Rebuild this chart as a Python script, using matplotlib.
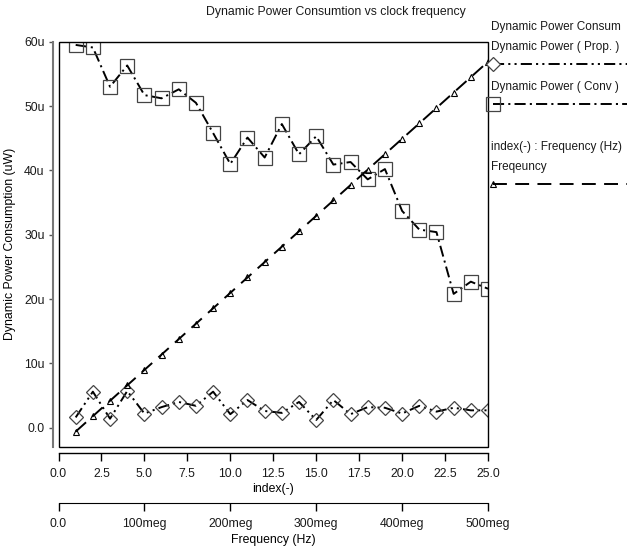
import matplotlib
matplotlib.use("Agg")
import matplotlib.pyplot as plt
from matplotlib.ticker import FuncFormatter
from matplotlib.lines import Line2D
from matplotlib.patches import Rectangle

# data
index = [1, 2, 3, 4, 5, 6, 7, 8, 9, 10, 11, 12, 13,
         14, 15, 16, 17, 18, 19, 20, 21, 22, 23, 24, 25]
frequency_hz = [20e6, 40e6, 60e6, 80e6, 100e6, 120e6, 140e6, 160e6, 180e6,
                200e6, 220e6, 240e6, 260e6, 280e6, 300e6, 320e6, 340e6,
                360e6, 380e6, 400e6, 420e6, 440e6, 460e6, 480e6, 500e6]
power_prop_uw = [1.6, 5.6, 1.4, 5.7, 2.2, 3.2, 4.0, 3.4, 5.6, 2.1, 4.3, 2.6, 2.3,
                 4.0, 1.2, 4.3, 2.1, 3.2, 3.1, 2.2, 3.4, 2.5, 3.1, 2.7, 2.7]
power_conv_uw = [59.5, 59.1, 53.0, 56.3, 51.7, 51.2, 52.6, 50.5, 45.8, 41.0, 45.1,
                 42.0, 47.2, 42.5, 45.3, 40.9, 41.3, 38.6, 40.2, 33.7, 30.8,
                 30.4, 20.8, 22.7, 21.6]

power_ticks = [0, 10, 20, 30, 40, 50, 60]
index_ticks = [0, 2.5, 5, 7.5, 10, 12.5, 15, 17.5, 20, 22.5, 25]
freq_ticks = [0, 100e6, 200e6, 300e6, 400e6, 500e6]

plt.rcParams['font.family'] = ['Liberation Sans', 'DejaVu Sans']
plt.rcParams['font.size'] = 8.8
plt.rcParams['text.color'] = '#1a1a1a'
plt.rcParams['xtick.labelcolor'] = '#1a1a1a'
plt.rcParams['ytick.labelcolor'] = '#1a1a1a'
plt.rcParams['lines.scale_dashes'] = False

W, H = 627, 551
fig = plt.figure(figsize=(W / 100, H / 100), dpi=100)

def fx(px):
    return px / W

def fy(py):
    return 1 - py / H

left, right, top, bottom = 58.5, 488, 41.7, 447
ax = fig.add_axes([fx(left), fy(bottom), fx(right - left), (bottom - top) / H])

dash_dot_dot = (0, (8, 3, 1.5, 3, 1.5, 3))
dash_dot = (0, (8, 3, 1.5, 3))
long_dash = (0, (10, 6))

ax.plot(index, power_prop_uw, color='black', lw=1.4, ls=dash_dot_dot,
        marker='D', ms=6.8, mfc='none', mec='#444444', mew=0.9)
ax.plot(index, power_conv_uw, color='black', lw=1.4, ls=dash_dot,
        marker='s', ms=9.6, mfc='none', mec='#444444', mew=0.9)

ax.set_xlim(0, 25)
ax.set_ylim(-3, 60)
ax.set_yticks(power_ticks)
ax.yaxis.set_major_formatter(FuncFormatter(lambda v, p: "0.0" if v == 0 else f"{v:g}u"))
ax.set_xticks(index_ticks)
ax.xaxis.set_major_formatter(FuncFormatter(lambda v, p: f"{v:.1f}"))

# box + offset axis lines
for s in ['top', 'right']:
    ax.spines[s].set_visible(False)
ax.spines['left'].set_position(('outward', 4))
ax.spines['left'].set_color('#777777')
ax.spines['left'].set_linewidth(1.5)
ax.spines['bottom'].set_position(('outward', 4))
ax.spines['bottom'].set_linewidth(1.0)
ax.add_patch(Rectangle((0, 0), 1, 1, transform=ax.transAxes, fill=False,
                       ec='black', lw=1.0, clip_on=False, zorder=5))
ax.tick_params(axis='y', direction='out', length=3, width=1, pad=3, color='#555555')
ax.tick_params(axis='x', direction='out', length=6, width=1, pad=5)
ax.set_ylabel("Dynamic Power Consumption (uW)", labelpad=6)
ax.set_xlabel("index(-)", labelpad=2)

# frequency trace on its own hidden y scale
ax_f = ax.twinx()
ax_f.plot(index, frequency_hz, color='black', lw=1.4, ls=long_dash,
          marker='^', ms=4, mfc='none', mec='black', mew=0.8)
ax_f.set_ylim(0, 526e6)
ax_f.axis('off')

# Frequency axis below the index axis
hz_per_index = frequency_hz[-1] / index[-1]
sec = ax.secondary_xaxis(-(503 - bottom) / (bottom - top),
                         functions=(lambda i: i * hz_per_index, lambda f: f / hz_per_index))
sec.set_xticks(freq_ticks)
sec.xaxis.set_major_formatter(FuncFormatter(lambda v, p: "0.0" if v == 0 else f"{v / 1e6:g}meg"))
sec.tick_params(direction='out', length=6, width=1, pad=5)
sec.set_xlabel("Frequency (Hz)", labelpad=3)

fig.text(fx(336), fy(12), "Dynamic Power Consumtion vs clock frequency",
         ha='center', va='center')

# legend panel on the right
lx = 491
lfs = 8.5
fig.text(fx(lx), fy(27), "Dynamic Power Consum", va='center', fontsize=lfs)
fig.text(fx(lx), fy(47), "Dynamic Power ( Prop. )", va='center', fontsize=lfs)
fig.add_artist(Line2D([fx(493), fx(627)], [fy(64), fy(64)], color='black', lw=1.4,
                      ls=dash_dot_dot))
fig.add_artist(Line2D([fx(493)], [fy(64)], marker='D', ms=6.8, mfc='white',
                      mec='#444444', mew=0.9, ls='none'))
fig.text(fx(lx), fy(87), "Dynamic Power ( Conv )", va='center', fontsize=lfs)
fig.add_artist(Line2D([fx(493), fx(627)], [fy(104), fy(104)], color='black', lw=1.4,
                      ls=dash_dot))
fig.add_artist(Line2D([fx(493)], [fy(104)], marker='s', ms=9.6, mfc='none',
                      mec='#444444', mew=0.9, ls='none'))
fig.text(fx(lx), fy(147), "index(-) : Frequency (Hz)", va='center', fontsize=lfs)
fig.text(fx(lx), fy(167), "Freqeuncy", va='center', fontsize=lfs)
fig.add_artist(Line2D([fx(493), fx(627)], [fy(184), fy(184)], color='black', lw=1.4,
                      ls=long_dash))
fig.add_artist(Line2D([fx(493)], [fy(184)], marker='^', ms=4, mfc='none',
                      mec='black', mew=0.8, ls='none'))

fig.savefig("out.png", dpi=100)
